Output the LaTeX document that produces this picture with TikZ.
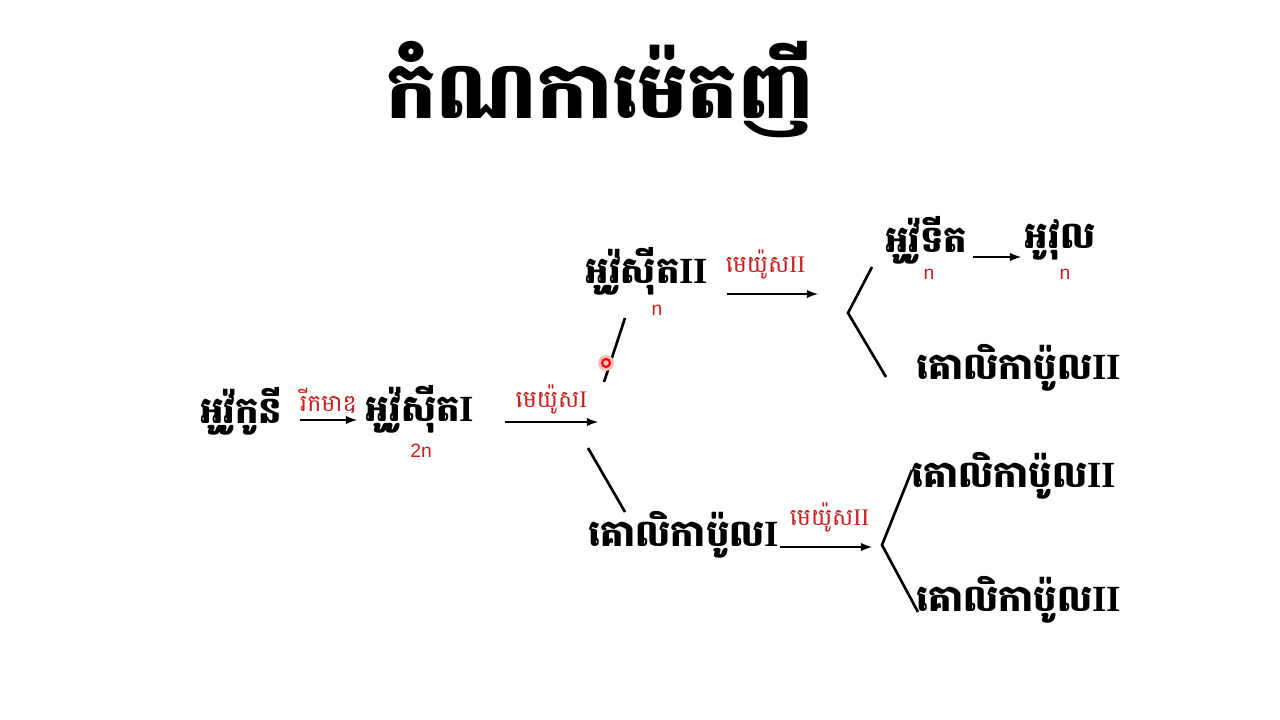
\documentclass[tikz,border=0pt]{standalone}
\usepackage{fontspec}
\usetikzlibrary{arrows,calc}
\newfontfamily\khfont[Script=Khmer]{Battambang}
\newfontfamily\latsans{Liberation Sans}
\newfontfamily\latserif{Liberation Serif}
\definecolor{lred}{RGB}{200,30,30}
\tikzstyle{cell} = [inner sep=1pt, font=\khfont\bfseries\fontsize{21}{25}\selectfont]
\tikzstyle{lab} = [inner sep=1pt, text=lred, font=\khfont\fontsize{13.5}{16}\selectfont]
\tikzstyle{ploid} = [inner sep=0pt, text=lred, font=\latsans\fontsize{11}{13}\selectfont]
\tikzstyle{arr} = [->, >=latex, line width=1.2pt]
\tikzstyle{fork} = [line width=1.5pt]
\newcommand{\rn}[1]{{\latserif #1}}

\begin{document}
\begin{tikzpicture}[x=0.2mm,y=-0.2mm]
  \useasboundingbox (0,0) rectangle (1280,720);
  \node[inner sep=0pt, font=\khfont\bfseries\fontsize{45}{54}\selectfont] (title) at (600,90) {កំណកាម៉េតញី};

  % first row
  \node[cell] (ogon) at (241,411) {អូវ៉ូកូនី};
  \node[cell] (oc1) at (420,409) {អូវ៉ូស៊ីត\rn{I}};
  \node[ploid] (p1) at (421,451) {2n};

  % upper branch
  \node[cell] (oc2) at (647,271) {អូវ៉ូស៊ីត\rn{II}};
  \node[ploid] (p2) at (657,310) {n};
  \node[cell] (otid) at (926,240) {អូវ៉ូទីត};
  \node[ploid] (p3) at (929,274) {n};
  \node[cell] (ovul) at (1060,240) {អូវុល};
  \node[ploid] (p4) at (1065,274) {n};
  \node[cell] (gb1) at (1019,368) {គោលិកាប៉ូល\rn{II}};

  % lower branch
  \node[cell] (gbI) at (684,535) {គោលិកាប៉ូល\rn{I}};
  \node[cell] (gb2) at (1014,476) {គោលិកាប៉ូល\rn{II}};
  \node[cell] (gb3) at (1019,600) {គោលិកាប៉ូល\rn{II}};

  % arrows
  \coordinate (a1s) at (300,420);
  \coordinate (a1e) at (357,420);
  \draw[arr] (a1s) -- node[lab, above=2pt] (l1) {រីកមាឌ} (a1e);
  \coordinate (a2s) at (505,422);
  \coordinate (a2e) at (598,422);
  \draw[arr] (a2s) -- node[lab, above=3pt] (l2) {មេយ៉ូស\rn{I}} (a2e);
  \coordinate (a3s) at (727,294);
  \coordinate (a3e) at (818,294);
  \draw[arr] (a3s) -- node[lab, above=7pt, xshift=-4pt] (l3) {មេយ៉ូស\rn{II}} (a3e);
  \coordinate (a4s) at (780,547);
  \coordinate (a4e) at (872,547);
  \draw[arr] (a4s) -- node[lab, above=7pt, xshift=2pt] (l4) {មេយ៉ូស\rn{II}} (a4e);
  \coordinate (a5s) at (973,257);
  \coordinate (a5e) at (1021,257);
  \draw[arr] (a5s) -- (a5e);

  % forks
  \coordinate (u1) at (604,382);
  \coordinate (u2) at (625,318);
  \draw[fork] (u1) -- (u2);
  \coordinate (d1) at (588,448);
  \coordinate (d2) at (625,512);
  \draw[fork] (d1) -- (d2);
  \coordinate (f1) at (848,313);
  \draw[fork] (872,267) -- (f1) -- (886,377);
  \coordinate (f2) at (882,545);
  \draw[fork] (912,470) -- (f2) -- (918,612);

  % pointer
  \fill[red!25] (606,363) circle (8);
  \draw[red, line width=1.2pt] (606,363) circle (4);
\end{tikzpicture}
\end{document}
